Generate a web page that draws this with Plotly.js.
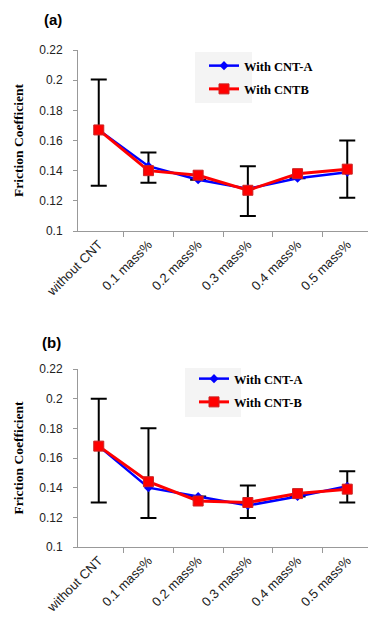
<!DOCTYPE html>
<html><head><meta charset="utf-8">
<script src="https://cdn.plot.ly/plotly-3.0.1.min.js"></script>
<style>html,body{margin:0;padding:0;background:#fff}#chart{width:368px;height:633px}</style>
</head><body><div id="chart"></div>
<script>
const categories = ['without CNT','0.1 mass%','0.2 mass%','0.3 mass%','0.4 mass%','0.5 mass%'];
// Panel (a)
const aSeriesA = [0.167, 0.143, 0.134, 0.128, 0.135, 0.139];
const aSeriesB = [0.167, 0.140, 0.137, 0.127, 0.138, 0.141];
const aErrTop  = [0.2005, 0.152, null, 0.143, null, 0.160];
const aErrBot  = [0.130, 0.132, null, 0.110, null, 0.122];
// Panel (b)
const bSeriesA = [0.168, 0.140, 0.134, 0.128, 0.134, 0.141];
const bSeriesB = [0.168, 0.144, 0.131, 0.130, 0.136, 0.139];
const bErrTop  = [0.200, 0.180, null, 0.1415, null, 0.151];
const bErrBot  = [0.130, 0.1195, null, 0.1195, null, 0.130];
const yTicks = [0.1, 0.12, 0.14, 0.16, 0.18, 0.2, 0.22];
const yTickText = ['0.1','0.12','0.14','0.16','0.18','0.2','0.22'];

function errPlus(v, top){ return v.map((x,i)=> top[i]==null ? 0 : top[i]-x); }
function errMinus(v, bot){ return v.map((x,i)=> bot[i]==null ? 0 : x-bot[i]); }

const blue = '#0000ff', red = '#ff0000';
function mk(ya, yb, top, bot, xa, yax, leg, nameB, g){
  return [
    {x: categories, y: ya, type:'scatter', mode:'lines+markers', name:'With CNT-A',
     xaxis: xa, yaxis: yax, legend: leg, legendgroup: g+'1',
     line:{color:blue, width:2.5}, marker:{symbol:'diamond', size:7, color:blue},
     error_y:{type:'data', symmetric:false, array: errPlus(ya, top), arrayminus: errMinus(ya, bot),
              color:'#000', thickness:2, width:8}},
    {x: categories, y: yb, type:'scatter', mode:'lines+markers', name:nameB,
     xaxis: xa, yaxis: yax, legend: leg, legendgroup: g+'2',
     line:{color:red, width:3}, marker:{symbol:'square', size:10, color:red, line:{color:'#cc2222', width:1}}}
  ];
}
const data = [].concat(
  mk(aSeriesA, aSeriesB, aErrTop, aErrBot, 'x', 'y', 'legend', 'With CNTB', 'a'),
  mk(bSeriesA, bSeriesB, bErrTop, bErrBot, 'x2', 'y2', 'legend2', 'With CNT-B', 'b')
);

const H = 633, W = 368;
const xax = (anchor)=>({anchor, domain:[78/W, 1], type:'category', tickson:'boundaries',
  ticks:'outside', ticklen:5, tickcolor:'#999', showline:true, linecolor:'#999', linewidth:1,
  showgrid:false, zeroline:false, tickangle:-45,
  tickfont:{family:'Liberation Sans, Arial, sans-serif', size:13, color:'#222'}, fixedrange:true});
const yax = (anchor, dom)=>({anchor, domain:dom, range:[0.1,0.22], tickvals:yTicks, ticktext:yTickText,
  ticks:'outside', ticklen:4, tickcolor:'#999', showline:true, linecolor:'#999', linewidth:1,
  showgrid:false, zeroline:false, ticklabelstandoff:8,
  tickfont:{family:'Liberation Sans, Arial, sans-serif', size:12, color:'#222'},
  title:{text:'Friction Coefficient', standoff:12,
    font:{family:'Liberation Serif, Times New Roman, serif', size:13.5, color:'#000', weight:'bold'}}});

const legFont = {family:'Liberation Serif, Times New Roman, serif', size:12.5, color:'#000', weight:'bold'};
const layout = {
  width: W, height: H, margin:{l:0, r:0, t:0, b:0},
  paper_bgcolor:'#fff', plot_bgcolor:'#fff', showlegend:true,
  xaxis: xax('y'), yaxis: yax('x', [1-231/H, 1-50/H]),
  xaxis2: xax('y2'), yaxis2: yax('x2', [1-547/H, 1-369/H]),
  legend: {x:204/W, y:1-51/H, xanchor:'left', yanchor:'top', bgcolor:'rgba(0,0,0,0)',
    font:legFont, tracegroupgap:4, itemwidth:30},
  legend2: {x:194/W, y:1-364/H, xanchor:'left', yanchor:'top', bgcolor:'rgba(0,0,0,0)',
    font:legFont, tracegroupgap:4, itemwidth:30},
  shapes: [
    {type:'rect', xref:'paper', yref:'paper', x0:195/W, x1:252/W, y0:1-103/H, y1:1-52/H,
     fillcolor:'#f4f4f4', line:{width:0}, layer:'below'},
    {type:'rect', xref:'paper', yref:'paper', x0:185/W, x1:241/W, y0:1-417/H, y1:1-368/H,
     fillcolor:'#f4f4f4', line:{width:0}, layer:'below'}
  ],
  annotations: [
    {text:'<b>(a)</b>', xref:'paper', yref:'paper', x:42/W, y:1-20/H, xanchor:'left', yanchor:'middle',
     showarrow:false, font:{family:'Liberation Sans, Arial, sans-serif', size:15, color:'#000'}},
    {text:'<b>(b)</b>', xref:'paper', yref:'paper', x:40/W, y:1-342/H, xanchor:'left', yanchor:'middle',
     showarrow:false, font:{family:'Liberation Sans, Arial, sans-serif', size:15, color:'#000'}}
  ]
};
Plotly.newPlot('chart', data, layout, {displayModeBar:false, staticPlot:true});
</script></body></html>
